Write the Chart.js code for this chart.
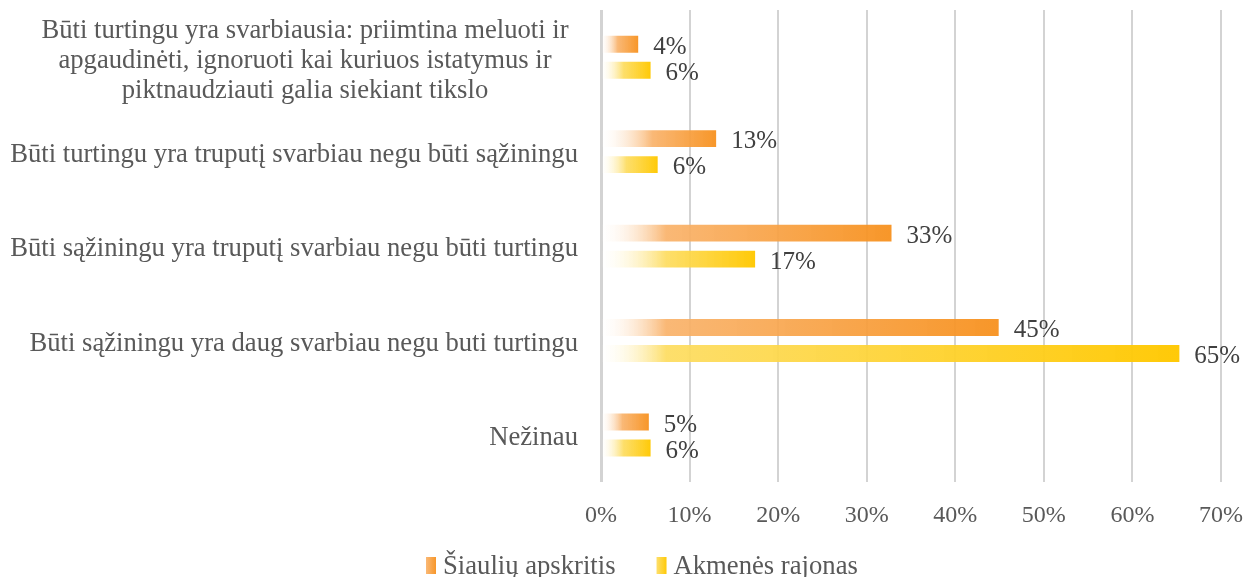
<!DOCTYPE html>
<html>
<head>
<meta charset="utf-8">
<script src="https://cdn.jsdelivr.net/npm/chart.js@4/dist/chart.umd.min.js"></script>
<style>
  html, body { margin: 0; padding: 0; background: #fff; overflow: hidden; }
  #wrap { width: 1244px; height: 577px; }
</style>
</head>
<body>
<div id="wrap"><canvas id="chart"></canvas></div>
<script>
// categories, top to bottom
const categories = [
    ["Būti turtingu yra svarbiausia: priimtina meluoti ir", "apgaudinėti, ignoruoti kai kuriuos istatymus ir", "piktnaudziauti galia siekiant tikslo"],
    "Būti turtingu yra truputį svarbiau negu būti sąžiningu",
    "Būti sąžiningu yra truputį svarbiau negu būti turtingu",
    "Būti sąžiningu yra daug svarbiau negu buti turtingu",
    "Nežinau"
];
const seriesNames = ["Šiaulių apskritis", "Akmenės rajonas"];
const siauliuValues = [4.2, 13.0, 32.8, 44.9, 5.4];
const akmenesValues = [5.6, 6.4, 17.4, 65.3, 5.6];
const siauliuLabels = ["4%", "13%", "33%", "45%", "5%"];
const akmenesLabels = ["6%", "6%", "17%", "65%", "6%"];
const xTicks = [0, 10, 20, 30, 40, 50, 60, 70];

const FONT = "'Liberation Serif', 'Times New Roman', serif";
const colors = [
    { light: "rgba(249,178,106,0.92)", full: "rgba(247,145,30,0.95)" },
    { light: "rgba(253,220,95,0.92)", full: "rgba(255,200,0,0.97)" }
];

function barGradient(ctx, idx) {
    const chart = ctx.chart;
    if (!chart.chartArea || ctx.type !== "data") return colors[idx].full;
    const xs = chart.scales.x;
    const x0 = xs.getPixelForValue(0);
    const x1 = xs.getPixelForValue(ctx.raw);
    const g = chart.ctx.createLinearGradient(x0, 0, x1, 0);
    g.addColorStop(0, "rgba(255,255,255,0.1)");
    g.addColorStop(Math.min(0.45, 65 / Math.max(1, x1 - x0)), colors[idx].light);
    g.addColorStop(1, colors[idx].full);
    return g;
}

// value labels after each bar
const valueLabels = {
    id: "valueLabels",
    afterDatasetsDraw(chart) {
        const ctx = chart.ctx;
        const texts = [siauliuLabels, akmenesLabels];
        ctx.save();
        ctx.font = "25px " + FONT;
        ctx.fillStyle = "#404040";
        ctx.textAlign = "left";
        ctx.textBaseline = "middle";
        chart.data.datasets.forEach((ds, di) => {
            chart.getDatasetMeta(di).data.forEach((bar, i) => {
                ctx.fillText(texts[di][i], bar.x + 15, bar.y + 3);
            });
        });
        ctx.restore();
    }
};

// category labels, right aligned; wrapped one centered like Excel
const categoryLabels = {
    id: "categoryLabels",
    afterDraw(chart) {
        const ctx = chart.ctx;
        const ys = chart.scales.y;
        ctx.save();
        ctx.font = "26.67px " + FONT;
        ctx.fillStyle = "#595959";
        ctx.textBaseline = "middle";
        categories.forEach((lab, i) => {
            const y = ys.getPixelForValue(i);
            if (Array.isArray(lab)) {
                ctx.textAlign = "center";
                const lh = 30;
                const top = y + 4 - (lab.length - 1) * lh / 2;
                lab.forEach((line, j) => ctx.fillText(line, 305, top + j * lh));
            } else {
                ctx.textAlign = "right";
                ctx.fillText(lab, 578, y + 3);
            }
        });
        ctx.restore();
    }
};

// bottom legend with small gradient swatches
const bottomLegend = {
    id: "bottomLegend",
    afterDraw(chart) {
        const ctx = chart.ctx;
        ctx.save();
        ctx.font = "26.67px " + FONT;
        ctx.textBaseline = "middle";
        ctx.textAlign = "left";
        let x = 426;
        const y = 566;
        seriesNames.forEach((name, i) => {
            const g = ctx.createLinearGradient(x, 0, x + 10, 0);
            g.addColorStop(0, colors[i].light);
            g.addColorStop(1, colors[i].full);
            ctx.fillStyle = g;
            ctx.fillRect(x, y - 9, 10, 17);
            ctx.fillStyle = "#595959";
            ctx.fillText(name, x + 17, y + 1);
            x += 17 + ctx.measureText(name).width + 41;
        });
        ctx.restore();
    }
};

new Chart(document.getElementById("chart"), {
    type: "bar",
    data: {
        labels: categories,
        datasets: [
            { label: seriesNames[0], data: siauliuValues, backgroundColor: (c) => barGradient(c, 0) },
            { label: seriesNames[1], data: akmenesValues, backgroundColor: (c) => barGradient(c, 1) }
        ]
    },
    options: {
        indexAxis: "y",
        responsive: true,
        maintainAspectRatio: false,
        animation: false,
        layout: { padding: { left: 0, right: 0, top: 10, bottom: 28 } },
        datasets: {
            bar: { categoryPercentage: 0.55, barPercentage: 0.65 }
        },
        scales: {
            y: {
                type: "category",
                ticks: { display: false },
                grid: { display: false },
                border: { display: false },
                afterFit: (axis) => { axis.width = 601; }
            },
            x: {
                min: 0,
                max: 70,
                afterBuildTicks: (axis) => { axis.ticks = xTicks.map(v => ({ value: v })); },
                afterFit: (axis) => { axis.paddingRight = 23; },
                ticks: {
                    callback: (v) => v + "%",
                    font: { family: FONT, size: 24 },
                    color: "#595959",
                    padding: 19,
                    maxRotation: 0
                },
                grid: {
                    color: "#D3D3D3",
                    lineWidth: (c) => c.index === 0 ? 3 : 2,
                    drawTicks: false
                },
                border: { display: false }
            }
        },
        plugins: {
            legend: { display: false },
            tooltip: { enabled: false }
        }
    },
    plugins: [valueLabels, categoryLabels, bottomLegend]
});
</script>
</body>
</html>
